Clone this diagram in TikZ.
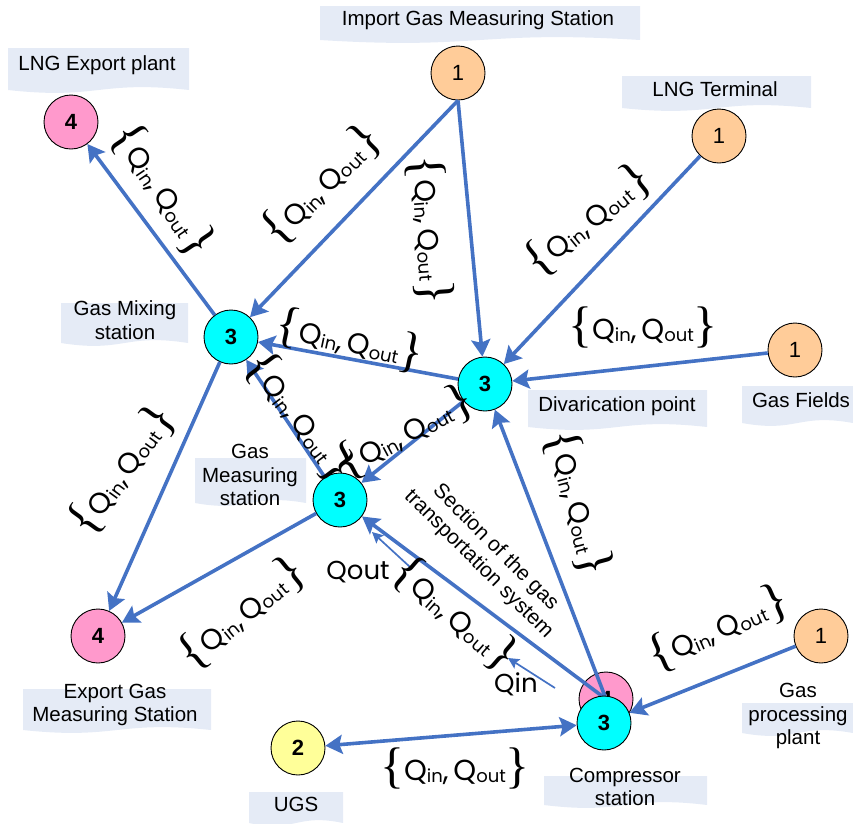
\documentclass[tikz,border=0pt]{standalone}
\usepackage{fontspec}
\setmainfont{Liberation Sans}
\newfontfamily\qfont{Poppins}
\newfontfamily\bracefont{Liberation Serif}
\usetikzlibrary{arrows.meta}

\definecolor{pipeblue}{HTML}{4472C4}
\definecolor{tagfill}{HTML}{E5EBF6}
\definecolor{srcfill}{HTML}{FFCC99}
\definecolor{sinkfill}{HTML}{FF99CC}
\definecolor{hubfill}{HTML}{00FFFF}
\definecolor{storefill}{HTML}{FFFF99}

\newcommand{\qsub}[1]{\raisebox{-2pt}{\fontsize{18}{18}\selectfont #1}}
\newcommand{\qbrace}[1]{\raisebox{-2pt}{\bracefont\fontsize{50}{50}\selectfont #1}}
\newcommand{\qpair}{\qbrace{\{}Q\qsub{in},\,Q\qsub{out}\qbrace{\}}}
\newcommand{\docbox}[4]{\fill[tagfill] (#1,#2) -- (#3,#2) -- (#3,#4)
  .. controls ({0.5*(#1+#3)},{#4-10}) and ({0.5*(#1+#3)},{#4+10}) .. (#1,#4) -- cycle;}

\begin{document}
\begin{tikzpicture}[x = 1pt, y = -1pt,
  station/.style = { circle, draw, line width = 0.9pt, minimum size = 54pt, inner sep = 0pt, font = \fontsize{22}{22}\selectfont\bfseries },
  src/.style = { station, fill = srcfill, font = \fontsize{22}{22}\selectfont },
  sink/.style = { station, fill = sinkfill },
  hub/.style = { station, fill = hubfill },
  store/.style = { station, fill = storefill },
  tag/.style = { align = center, inner sep = 0pt, font = \fontsize{20.5}{23.5}\selectfont },
  qset/.style = { inner sep = 0pt, font = \qfont\fontsize{29}{29}\selectfont },
  qbig/.style = { inner sep = 0pt, font = \qfont\fontsize{26}{26}\selectfont },
  flow/.style = { draw = pipeblue, line width = 3.6pt, -{Stealth[length = 17pt, width = 19pt, inset = 3pt]} },
  thinflow/.style = { draw = pipeblue, line width = 1.7pt, -{Stealth[length = 11pt, width = 11pt, inset = 2pt]} }]
  \useasboundingbox (0, 0) rectangle (853, 823);

  \docbox{320}{6}{640}{40}
  \docbox{8}{48}{189}{90}
  \docbox{622}{76}{811}{108}
  \docbox{61}{303}{188}{343}
  \docbox{528}{390}{707}{427}
  \docbox{742}{386}{853}{423}
  \docbox{195}{458}{306}{503}
  \docbox{23}{689}{211}{730}
  \docbox{249}{792}{343}{823}
  \docbox{544}{776}{707}{805}
  \docbox{742}{703}{853}{733}

  \node[tag] (importtag) at (478, 20) {Import Gas Measuring Station};
  \node[tag] (lngexporttag) at (97, 65) {LNG Export plant};
  \node[tag] (lngterminaltag) at (715, 89) {LNG Terminal};
  \node[tag] (mixingtag) at (125, 320) {Gas Mixing\\station};
  \node[tag] (divaricationtag) at (617, 406) {Divarication point};
  \node[tag] (gasfieldstag) at (801, 400) {Gas Fields};
  \node[tag] (measuringtag) at (250, 475) {Gas\\Measuring\\station};
  \node[tag] (exportgmstag) at (115, 705) {Export Gas\\Measuring Station};
  \node[tag] (ugstag) at (296, 804) {UGS};
  \node[tag] (compressortag) at (625, 787) {Compressor\\station};
  \node[tag] (processingtag) at (798, 716) {Gas\\processing\\plant};

  \node[src] (importgms) at (458, 73) {1};
  \node[src] (lngterminal) at (719, 136) {1};
  \node[src] (gasfields) at (795, 350) {1};
  \node[src] (processing) at (821, 636) {1};
  \node[sink] (lngexport) at (71, 122) {4};
  \node[sink] (exportgms) at (98, 636) {4};
  \node[hub] (mixing) at (231, 337) {3};
  \node[hub] (divarication) at (485, 384) {3};
  \node[hub] (measuring) at (340, 500) {3};
  \node[store] (ugs) at (298, 748) {2};
  \node[sink] (booster) at (606, 699) {4};

  \draw[flow] (importgms.south) -- (mixing);
  \draw[flow] (importgms.south) -- (divarication);
  \draw[flow] (lngterminal) -- (divarication);
  \draw[flow] (gasfields) -- (divarication);
  \draw[flow] (divarication) -- (mixing);
  \draw[flow] (divarication) -- (measuring);
  \draw[flow] (mixing) -- (lngexport);
  \draw[flow] (mixing) -- (exportgms);
  \draw[flow] (measuring) -- (mixing);
  \draw[flow] (measuring) -- (exportgms);
  \draw[flow] (booster.center) -- (measuring);
  \draw[flow] (booster.center) -- (divarication);

  \node[hub] (compressor) at (604, 723) {3};
  \draw[flow, {Stealth[length = 17pt, width = 19pt, inset = 3pt]}-{Stealth[length = 17pt, width = 19pt, inset = 3pt]}] (ugs) -- (compressor);
  \draw[flow] (processing) -- (compressor);

  \coordinate (outstart) at (410, 567);
  \coordinate (outend) at (372, 532);
  \coordinate (instart) at (555, 688);
  \coordinate (inend) at (508, 658);
  \draw[thinflow] (outstart) -- (outend);
  \draw[thinflow] (instart) -- (inend);
  \node[qbig] (qout) at (358, 572) {Qout};
  \node[qbig] (qin) at (516, 684) {Qin};

  \node[tag, rotate = -45, font = \fontsize{21}{24}\selectfont] (sectiontag) at (487, 556) {Section of the gas\\transportation system};

  \node[qset, rotate = -56] (q1) at (163, 190) {\qpair};
  \node[qset, rotate = 45] (q2) at (322, 185) {\qpair};
  \node[qset, rotate = -86] (q3) at (430, 230) {\qpair};
  \node[qset, rotate = 39] (q4) at (588, 220) {\qpair};
  \node[qset] (q5) at (643, 327) {\qpair};
  \node[qset, rotate = -12] (q6) at (350, 340) {\qpair};
  \node[qset, rotate = -53] (q7) at (300, 417) {\qpair};
  \node[qset, rotate = 28] (q8) at (405, 432) {\qpair};
  \node[qset, rotate = 54] (q9) at (122, 470) {\qpair};
  \node[qset, rotate = 39] (q10) at (242, 613) {\qpair};
  \node[qset, rotate = -75] (q11) at (578, 503) {\qpair};
  \node[qset, rotate = -41] (q12) at (455, 614) {\qpair};
  \node[qset, rotate = 24] (q13) at (718, 628) {\qpair};
  \node[qset] (q14) at (455, 768) {\qpair};
\end{tikzpicture}
\end{document}
